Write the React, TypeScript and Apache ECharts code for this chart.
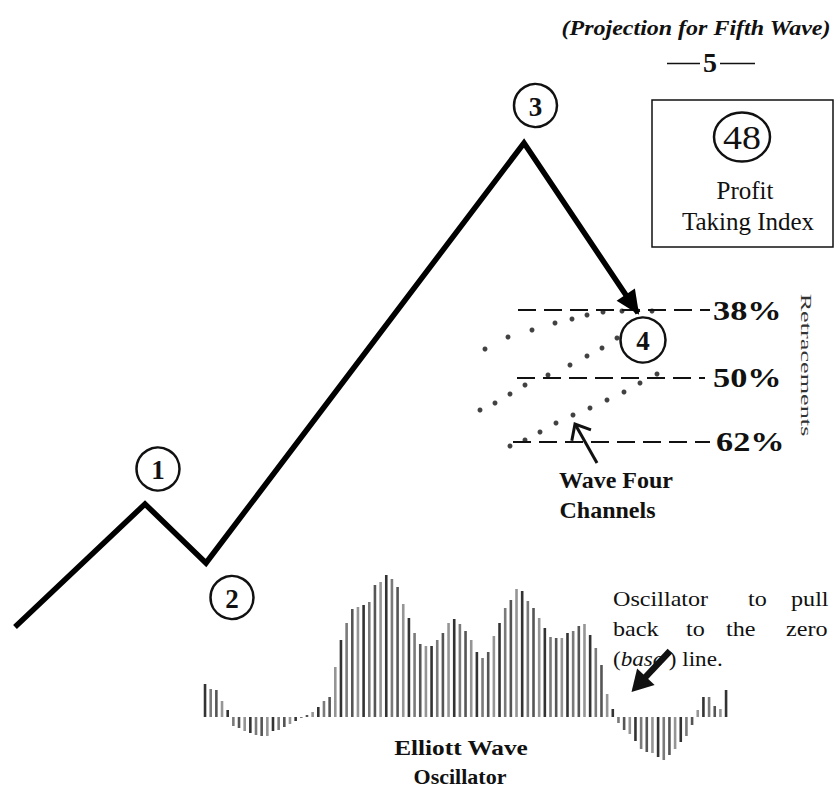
import React, { useEffect, useRef } from 'react';
import * as echarts from 'echarts';

const W = 837;
const H = 787;
const FONT = 'Liberation Serif';

// Elliott wave pivots: start, wave 1, wave 2, wave 3, wave 4 (time units, price units)
const waveNames = ['start', '1', '2', '3', '4'];
const waveTime = [15, 145, 206, 524, 638];
const wavePrice = [160, 283, 224, 644, 474];

// Retracement levels of wave three
const retraceLabels = ['38%', '50%', '62%'];
const retracePrice = [477, 409, 345];
const retraceStart = [518, 517, 513];
const retraceEnd = [710, 705, 710];

// Wave four channels (dotted)
const chanATime = [485, 508, 532, 555, 572, 587, 603, 622, 652];
const chanAPrice = [438, 450, 457, 464, 468, 472, 475, 476, 476];
const chanBTime = [480, 495, 510, 525, 548, 570, 587, 602, 617];
const chanBPrice = [377, 384, 393, 402, 412, 422, 431, 439, 449];
const chanCTime = [510, 525, 540, 556, 573, 590, 607, 624, 640, 657];
const chanCPrice = [341, 347, 355, 364, 372, 379, 387, 395, 404, 413];

// Elliott Wave Oscillator histogram
const oscValues = [
  33, 28, 27, 16, 7, -9, -11, -14, -16, -18, -19, -19, -14, -13, -10, -7, -4, -1, 2, 5, 10, 16, 20,
  50, 77, 94, 108, 110, 112, 115, 132, 135, 142, 138, 130, 113, 99, 84, 73, 71, 71, 77, 84, 94, 98, 93, 86,
  77, 65, 59, 65, 81, 94, 109, 117, 128, 126, 116, 109, 99, 89, 80, 79, 79, 84, 86, 91, 93, 82, 69, 52,
  23, 8, -6, -13, -17, -24, -32, -35, -36, -40, -43, -38, -32, -25, -19, -8, 7, 20, 20, 11, 8, 27,
];
const oscCategories = oscValues.map((_, i) => String(i + 1));
const barShades = ['#333333', '#7a7a7a', '#555555', '#959595'];

type TOpts = {
  weight?: string;
  style?: string;
  align?: string;
  sx?: number;
  color?: string;
  rotation?: number;
  rich?: any;
};

function T(text: string, x: number, y: number, size: number, o: TOpts = {}) {
  const align = o.align || 'center';
  return {
    type: 'text',
    x,
    y,
    z: 100,
    scaleX: o.sx || 1,
    rotation: o.rotation || 0,
    style: {
      text,
      fontSize: size,
      fontFamily: FONT,
      fontWeight: o.weight || 'normal',
      fontStyle: o.style || 'normal',
      fill: o.color || '#111',
      align,
      verticalAlign: 'middle',
      textAlign: align,
      textVerticalAlign: 'middle',
      rich: o.rich,
    },
  };
}

function circ(cx: number, cy: number, r: number) {
  return {
    type: 'circle',
    z: 99,
    shape: { cx, cy, r },
    style: { fill: '#fff', stroke: '#111', lineWidth: 2.5 },
  };
}

function ln(x1: number, y1: number, x2: number, y2: number, w: number) {
  return {
    type: 'line',
    z: 100,
    shape: { x1, y1, x2, y2 },
    style: { stroke: '#111', lineWidth: w },
  };
}

export default function App() {
  const ref = useRef<HTMLDivElement>(null);

  useEffect(() => {
    if (!ref.current) return;
    const chart = echarts.init(ref.current, undefined, { renderer: 'svg' });

    const option: any = {
      animation: false,
      backgroundColor: '#fff',
      textStyle: { fontFamily: FONT },
      grid: [
        { left: 0, top: 0, width: W, height: H },
        { left: 202.2, top: 567, width: 526.7, height: 200 },
      ],
      xAxis: [
        { type: 'value', gridIndex: 0, min: 0, max: W, show: false },
        { type: 'category', gridIndex: 1, data: oscCategories, show: false },
      ],
      yAxis: [
        { type: 'value', gridIndex: 0, min: 0, max: H, show: false },
        { type: 'value', gridIndex: 1, min: -50, max: 150, show: false },
      ],
      series: [
        {
          type: 'line',
          name: 'Elliott wave',
          xAxisIndex: 0,
          yAxisIndex: 0,
          data: waveTime.map((t, i) => ({ name: waveNames[i], value: [t, wavePrice[i]] })),
          symbol: 'none',
          lineStyle: { color: '#000', width: 5.5, join: 'miter', cap: 'butt' },
          markLine: {
            silent: true,
            symbol: ['none', 'none'],
            label: { show: false },
            lineStyle: { color: '#111', width: 2, type: [18, 8] },
            data: retraceLabels.map((l, i) => [
              { name: l, coord: [retraceStart[i], retracePrice[i]] },
              { coord: [retraceEnd[i], retracePrice[i]] },
            ]),
          },
        },
        ...[
          [chanATime, chanAPrice],
          [chanBTime, chanBPrice],
          [chanCTime, chanCPrice],
        ].map(([tt, pp], k) => ({
          type: 'scatter',
          name: 'channel' + k,
          xAxisIndex: 0,
          yAxisIndex: 0,
          symbol: 'circle',
          symbolSize: 5,
          itemStyle: { color: '#111' },
          data: tt.map((t, i) => [t, pp[i]]),
        })),
        {
          type: 'bar',
          name: 'oscillator',
          xAxisIndex: 1,
          yAxisIndex: 1,
          barWidth: 2.6,
          data: oscValues.map((v, i) => ({
            value: v,
            itemStyle: { color: barShades[i % barShades.length] },
          })),
        },
      ],
    };
    chart.setOption(option);

    // arrowhead at end of wave 3 -> 4 leg
    const p3 = chart.convertToPixel({ gridIndex: 0 }, [waveTime[3], wavePrice[3]]) as number[];
    const p4 = chart.convertToPixel({ gridIndex: 0 }, [waveTime[4], wavePrice[4]]) as number[];
    const dx = p4[0] - p3[0];
    const dy = p4[1] - p3[1];
    const len = Math.hypot(dx, dy);
    const ux = dx / len;
    const uy = dy / len;
    const hl = 22;
    const hw = 11;
    const bx = p4[0] - ux * hl;
    const by = p4[1] - uy * hl;
    const arrowHead = {
      type: 'polygon',
      z: 101,
      shape: {
        points: [
          [p4[0] + ux * 2, p4[1] + uy * 2],
          [bx - uy * hw, by + ux * hw],
          [bx + uy * hw, by - ux * hw],
        ],
      },
      style: { fill: '#000' },
    };

    // oscillator arrow
    const oTail = [670, 651];
    const oTip = [631.5, 692];
    const odx = oTip[0] - oTail[0];
    const ody = oTip[1] - oTail[1];
    const ol = Math.hypot(odx, ody);
    const oux = odx / ol;
    const ouy = ody / ol;
    const obx = oTip[0] - oux * 21;
    const oby = oTip[1] - ouy * 21;
    const ohw = 12;

    // small arrow for wave four channels
    const sTail = [597, 463];
    const sTip = [575, 424];
    const sdx = sTip[0] - sTail[0];
    const sdy = sTip[1] - sTail[1];
    const sl = Math.hypot(sdx, sdy);
    const sux = sdx / sl;
    const suy = sdy / sl;
    const sbx = sTip[0] - sux * 13;
    const sby = sTip[1] - suy * 13;
    const shw = 11;

    const graphic: any[] = [
      arrowHead,
      T('(Projection for Fifth Wave)', 696, 28, 20, { weight: 'bold', style: 'italic', sx: 1.2 }),
      T('5', 710, 62, 28, { weight: 'bold' }),
      ln(667, 63.5, 700, 63.5, 1.5),
      ln(720, 63.5, 755, 63.5, 1.5),
      {
        type: 'rect',
        z: 98,
        shape: { x: 652, y: 100, width: 181, height: 147 },
        style: { fill: '#fff', stroke: '#111', lineWidth: 1.5 },
      },
      {
        type: 'ellipse',
        z: 99,
        shape: { cx: 742, cy: 137, rx: 28, ry: 24.5 },
        style: { fill: '#fff', stroke: '#111', lineWidth: 2.5 },
      },
      T('48', 742, 138, 33, { sx: 1.15 }),
      T('Profit', 745, 190, 25),
      T('Taking Index', 748, 221, 25),
      circ(158, 469, 21.5),
      T('1', 158, 470, 27, { weight: 'bold' }),
      circ(232, 597.5, 21.5),
      T('2', 232, 598.5, 27, { weight: 'bold' }),
      circ(535.5, 105.5, 21.5),
      T('3', 535.5, 106.5, 27, { weight: 'bold' }),
      circ(643, 340, 22.5),
      T('4', 643, 341, 27, { weight: 'bold' }),
      T('38%', 713, 311, 27, { weight: 'bold', align: 'left', sx: 1.27 }),
      T('50%', 713, 378, 27, { weight: 'bold', align: 'left', sx: 1.27 }),
      T('62%', 716, 442, 27, { weight: 'bold', align: 'left', sx: 1.27 }),
      T('Retracements', 806, 365, 15, { rotation: -Math.PI / 2, sx: 1.75, color: '#333' }),
      // small arrow
      ln(sTail[0], sTail[1], sTip[0] - sux * 2, sTip[1] - suy * 2, 3),
      {
        type: 'polyline',
        z: 100,
        shape: {
          points: [
            [sbx - suy * shw, sby + sux * shw],
            [sTip[0], sTip[1]],
            [sbx + suy * shw, sby - sux * shw],
          ],
        },
        style: { stroke: '#111', lineWidth: 3, fill: 'none' },
      },
      T('Wave Four', 616, 480, 24, { weight: 'bold' }),
      T('Channels', 607.5, 510, 24, { weight: 'bold' }),
      // oscillator description
      T('Oscillator', 613, 599, 21, { align: 'left', sx: 1.15 }),
      T('to', 748, 599, 21, { align: 'left', sx: 1.15 }),
      T('pull', 791, 599, 21, { align: 'left', sx: 1.15 }),
      T('back', 613, 629, 21, { align: 'left', sx: 1.15 }),
      T('to', 686, 629, 21, { align: 'left', sx: 1.15 }),
      T('the', 726, 629, 21, { align: 'left', sx: 1.15 }),
      T('zero', 786, 629, 21, { align: 'left', sx: 1.15 }),
      T('({i|base} ) line.', 613, 659, 21, {
        align: 'left',
        sx: 1.1,
        rich: { i: { fontStyle: 'italic', fontSize: 21, fontFamily: FONT, fill: '#111' } },
      }),
      // oscillator arrow
      ln(oTail[0], oTail[1], obx + oux * 2, oby + ouy * 2, 6.5),
      {
        type: 'polygon',
        z: 100,
        shape: {
          points: [
            [oTip[0], oTip[1]],
            [obx - ouy * ohw, oby + oux * ohw],
            [obx + ouy * ohw, oby - oux * ohw],
          ],
        },
        style: { fill: '#111' },
      },
      T('Elliott Wave', 461, 748, 22, { weight: 'bold', sx: 1.15 }),
      T('Oscillator', 460, 776, 22, { weight: 'bold' }),
    ];

    chart.setOption({ graphic });

    return () => {
      chart.dispose();
    };
  }, []);

  return (
    <div
      ref={ref}
      style={{ position: 'absolute', left: 0, top: 0, width: W, height: H, background: '#fff' }}
    />
  );
}
